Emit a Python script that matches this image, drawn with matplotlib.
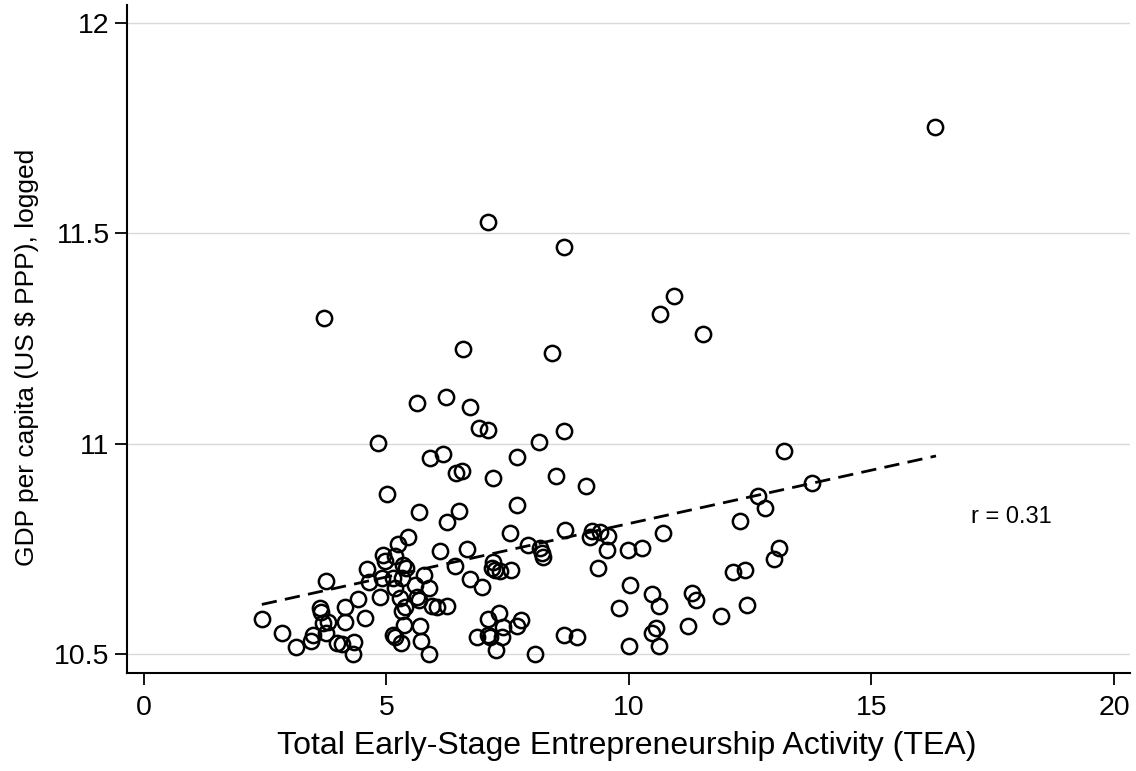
import numpy as np
import matplotlib.pyplot as plt

plt.rcParams['font.family'] = ['Liberation Sans', 'DejaVu Sans']

# TEA (x) and logged GDP per capita (y)
tea = [2.43, 2.84, 3.13, 3.44, 3.49, 3.63, 3.65, 3.75, 3.70, 3.80,
       3.75, 3.97, 4.08, 4.34, 4.30, 4.14, 4.14, 4.42, 4.56, 4.60,
       4.64, 4.87, 4.90, 4.92, 4.97, 5.14, 5.18, 5.30, 5.18, 5.24,
       5.44, 5.35, 5.40, 5.14, 5.33, 5.18, 5.28, 5.38, 5.33, 5.37,
       5.59, 5.62, 5.67, 5.78, 5.88, 5.69, 5.71, 5.88, 5.93, 6.05,
       6.24, 5.67, 6.24, 6.50, 6.10, 6.41, 6.67, 6.72, 6.86, 7.69,
       7.55, 6.96, 7.20, 7.17, 7.24, 7.34, 7.56, 7.92, 8.17, 8.20,
       8.22, 8.68, 9.23, 9.20, 9.40, 9.57, 9.54, 9.37, 9.99, 10.26,
       10.71, 10.02, 9.80, 10.47, 10.62, 11.29, 11.38, 11.21, 10.47, 10.56,
       10.62, 10.01, 7.10, 7.32, 7.41, 7.69, 7.77, 7.10, 7.13, 7.38,
       7.26, 8.06, 8.66, 8.93, 12.67, 12.80, 12.29, 13.77, 13.10, 12.99,
       12.15, 12.39, 11.89, 12.44, 10.64, 6.58, 8.41, 5.62, 6.22, 6.72,
       6.91, 7.09, 4.83, 8.14, 8.67, 5.90, 6.17, 7.69, 6.43, 6.56,
       7.20, 8.50, 9.11, 5.02, 16.31, 7.09, 8.66, 3.71, 10.93, 11.53,
       13.20]
gdp = [10.583, 10.551, 10.517, 10.532, 10.545, 10.609, 10.601, 10.673, 10.573, 10.577,
       10.549, 10.527, 10.524, 10.529, 10.500, 10.613, 10.577, 10.630, 10.586, 10.702,
       10.672, 10.636, 10.682, 10.735, 10.722, 10.545, 10.541, 10.527, 10.733, 10.762,
       10.779, 10.712, 10.704, 10.680, 10.682, 10.656, 10.633, 10.613, 10.602, 10.569,
       10.664, 10.636, 10.628, 10.688, 10.656, 10.567, 10.532, 10.500, 10.614, 10.613,
       10.614, 10.838, 10.815, 10.841, 10.745, 10.709, 10.749, 10.678, 10.541, 10.854,
       10.787, 10.659, 10.720, 10.704, 10.700, 10.698, 10.700, 10.759, 10.751, 10.740,
       10.730, 10.795, 10.793, 10.779, 10.791, 10.781, 10.747, 10.704, 10.747, 10.751,
       10.788, 10.664, 10.609, 10.644, 10.614, 10.646, 10.628, 10.567, 10.551, 10.561,
       10.519, 10.519, 10.583, 10.597, 10.564, 10.567, 10.581, 10.545, 10.540, 10.540,
       10.510, 10.500, 10.545, 10.540, 10.876, 10.848, 10.816, 10.906, 10.753, 10.725,
       10.694, 10.700, 10.590, 10.617, 11.308, 11.225, 11.215, 11.097, 11.112, 11.088,
       11.037, 11.033, 11.001, 11.003, 11.031, 10.965, 10.975, 10.969, 10.931, 10.936,
       10.918, 10.923, 10.899, 10.880, 11.753, 11.527, 11.468, 11.299, 11.351, 11.261,
       10.983]

# fitted line end points
fit_x = [2.43, 16.33]
fit_y = [10.618, 10.971]

xticks = [0, 5, 10, 15, 20]
yticks = [10.5, 11, 11.5, 12]
ytick_labels = ['10.5', '11', '11.5', '12']

fig = plt.figure(figsize=(11.36, 7.71), dpi=100)
ax = fig.add_axes([0.1118, 0.1271, 0.8829, 0.8664])

ax.plot(tea, gdp, 'o', ms=11, mfc='none', mec='black', mew=1.8, zorder=3)
ax.plot(fit_x, fit_y, color='black', lw=2, dashes=(5.5, 3), zorder=2)

ax.text(17.05, 10.826, 'r = 0.31', fontsize=17, ha='left', va='center')

ax.set_xlim(-0.35, 20.33)
ax.set_ylim(10.455, 12.043)
ax.set_xticks(xticks)
ax.set_yticks(yticks)
ax.set_yticklabels(ytick_labels)
ax.yaxis.grid(True, color='#d9d9d9', lw=1)
ax.set_axisbelow(True)

for s in ['top', 'right']:
    ax.spines[s].set_visible(False)
for s in ['left', 'bottom']:
    ax.spines[s].set_linewidth(1.5)

ax.tick_params(direction='out', length=8.5, width=1.3, labelsize=20.5, pad=4)
ax.tick_params(axis='x', pad=7)
ax.set_xlabel('Total Early-Stage Entrepreneurship Activity (TEA)', fontsize=23)
ax.set_ylabel('GDP per capita (US $ PPP), logged', fontsize=19)
ax.yaxis.set_label_coords(-0.088, 0.473)
ax.xaxis.set_label_coords(0.498, -0.087)

fig.savefig('out.png', dpi=100)
